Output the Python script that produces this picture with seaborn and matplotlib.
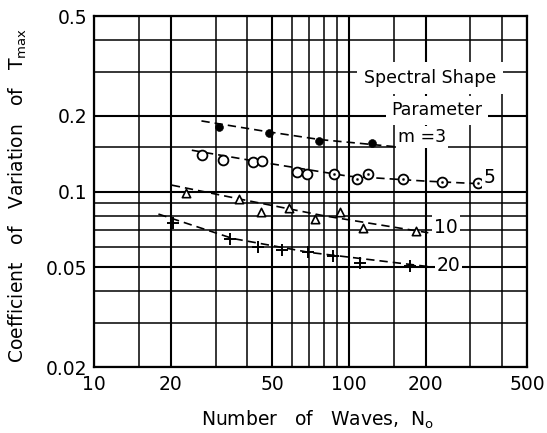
import matplotlib
matplotlib.use("Agg")
import matplotlib.pyplot as plt
from matplotlib.ticker import NullFormatter, FixedFormatter
import seaborn as sns
import pandas as pd

# Measured coefficient of variation of T_max vs. number of waves, per spectral shape parameter m
m3_n = [31.0, 48.6, 76.6, 123.0]
m3_cv = [0.180, 0.171, 0.159, 0.1555]

m5_n = [26.6, 32.2, 42.2, 45.5, 62.8, 68.7, 87.4, 107.9, 119.2, 163.5, 231.2, 321.9]
m5_cv = [0.140, 0.133, 0.131, 0.132, 0.120, 0.117, 0.117, 0.112, 0.117, 0.112, 0.109, 0.108]
m5_centre_dot = [False, False, False, False, False, False, True, True, True, True, True, True]

m10_n = [23.0, 37.2, 45.1, 58.4, 73.8, 92.3, 113.9, 182.8]
m10_cv = [0.099, 0.093, 0.083, 0.0857, 0.0774, 0.0826, 0.0713, 0.0698]

m20_n = [20.5, 34.2, 44.1, 54.5, 69.3, 86.9, 110.5, 173.6]
m20_cv = [0.0751, 0.0645, 0.0602, 0.0584, 0.0575, 0.0555, 0.0517, 0.0505]

# Faired (dashed) trend curves
m3_fit_n = [26.4, 48.0, 77.0, 150.0]
m3_fit_cv = [0.191, 0.173, 0.161, 0.151]
m5_fit_n = [24.2, 45.0, 100.0, 200.0, 318.0]
m5_fit_cv = [0.146, 0.131, 0.115, 0.110, 0.1075]
m10_fit_n = [20.2, 40.0, 80.0, 205.0]
m10_fit_cv = [0.106, 0.092, 0.080, 0.0685]
m20_fit_n = [17.9, 35.0, 70.0, 213.0]
m20_fit_cv = [0.0813, 0.065, 0.0572, 0.050]

x_major = [10, 20, 50, 100, 200, 500]
x_minor = [15, 30, 40, 60, 70, 80, 90, 150, 300, 400]
y_major = [0.02, 0.05, 0.1, 0.2, 0.5]
y_minor = [0.03, 0.04, 0.06, 0.07, 0.08, 0.09, 0.15, 0.3, 0.4]
y_major_labels = ["0.02", "0.05", "0.1", "0.2", "0.5"]

sns.set_style("white")
plt.rcParams["font.family"] = ["DejaVu Sans"]

fig = plt.figure(figsize=(5.47, 4.33), dpi=100)
ax = fig.add_axes([94 / 547, 1 - 367 / 433, 433 / 547, 351 / 433])
ax.set_xscale("log")
ax.set_yscale("log")

dash = (5, 3)
fits = [(m3_fit_n, m3_fit_cv), (m5_fit_n, m5_fit_cv),
        (m10_fit_n, m10_fit_cv), (m20_fit_n, m20_fit_cv)]
for fn, fc in fits:
    sns.lineplot(x=fn, y=fc, ax=ax, color="black", lw=1.2,
                 linestyle=(0, dash), zorder=3)

sns.scatterplot(x=m3_n, y=m3_cv, ax=ax, marker="o", s=32,
                color="black", edgecolor="black", zorder=4)
sns.scatterplot(x=m5_n, y=m5_cv, ax=ax, marker="o", s=50,
                facecolor="white", edgecolor="black", linewidth=1.3, zorder=4)
dot_df = pd.DataFrame({"n": m5_n, "cv": m5_cv, "dot": m5_centre_dot})
dot_df = dot_df[dot_df["dot"]]
sns.scatterplot(data=dot_df, x="n", y="cv", ax=ax, marker="o", s=3,
                color="black", edgecolor="black", zorder=5)
sns.scatterplot(x=m10_n, y=m10_cv, ax=ax, marker="^", s=36,
                facecolor="white", edgecolor="black", linewidth=1.2, zorder=4)
sns.scatterplot(x=m20_n, y=m20_cv, ax=ax, marker="+", s=64,
                color="black", linewidth=1.4, zorder=4)

ax.set_xlim(10, 500)
ax.set_ylim(0.02, 0.5)
ax.set_xlabel("")
ax.set_ylabel("")

# grid
ax.set_xticks(x_major)
ax.set_xticks(x_minor, minor=True)
ax.set_yticks(y_major)
ax.set_yticks(y_minor, minor=True)
ax.xaxis.set_major_formatter(FixedFormatter([str(v) for v in x_major]))
ax.yaxis.set_major_formatter(FixedFormatter(y_major_labels))
ax.xaxis.set_minor_formatter(NullFormatter())
ax.yaxis.set_minor_formatter(NullFormatter())
ax.grid(True, which="major", color="black", lw=1.5)
ax.grid(True, which="minor", color="black", lw=1.1)
ax.set_axisbelow(True)
ax.tick_params(which="both", length=0, labelsize=13.5, colors="black")
ax.tick_params(axis="x", pad=6)
ax.tick_params(axis="y", pad=5)
for s in ax.spines.values():
    s.set_color("black")
    s.set_linewidth(1.6)

box = dict(facecolor="white", edgecolor="none", pad=1.5)
tk = dict(fontsize=12.5, color="black", zorder=6)
ax.text(208, 0.283, "Spectral Shape", ha="center", va="center",
        bbox=dict(facecolor="white", edgecolor="none", pad=5), **tk)
ax.text(222, 0.211, "Parameter", ha="center", va="center",
        bbox=dict(facecolor="white", edgecolor="none", pad=4), **tk)
ax.text(156, 0.1648, "m =3", ha="left", va="center", bbox=box, **tk)
ax.text(339, 0.1135, "5", ha="left", va="center", bbox=box, fontsize=13.5,
        color="black", zorder=6)
ax.text(216, 0.0722, "10", ha="left", va="center", bbox=box, fontsize=13.5,
        color="black", zorder=6)
ax.text(221, 0.0505, "20", ha="left", va="center", bbox=box, fontsize=13.5,
        color="black", zorder=6)

fig.text(318 / 547, 1 - 420 / 433, "Number   of   Waves,  N$_{\\mathregular{o}}$",
         ha="center", va="center", fontsize=13.5, color="black")
fig.text(18 / 547, 1 - 196 / 433,
         "Coefficient   of   Variation   of   T$_{\\mathregular{max}}$",
         ha="center", va="center", rotation=90, fontsize=13.5, color="black")

fig.savefig("out.png", dpi=100, facecolor="white")
